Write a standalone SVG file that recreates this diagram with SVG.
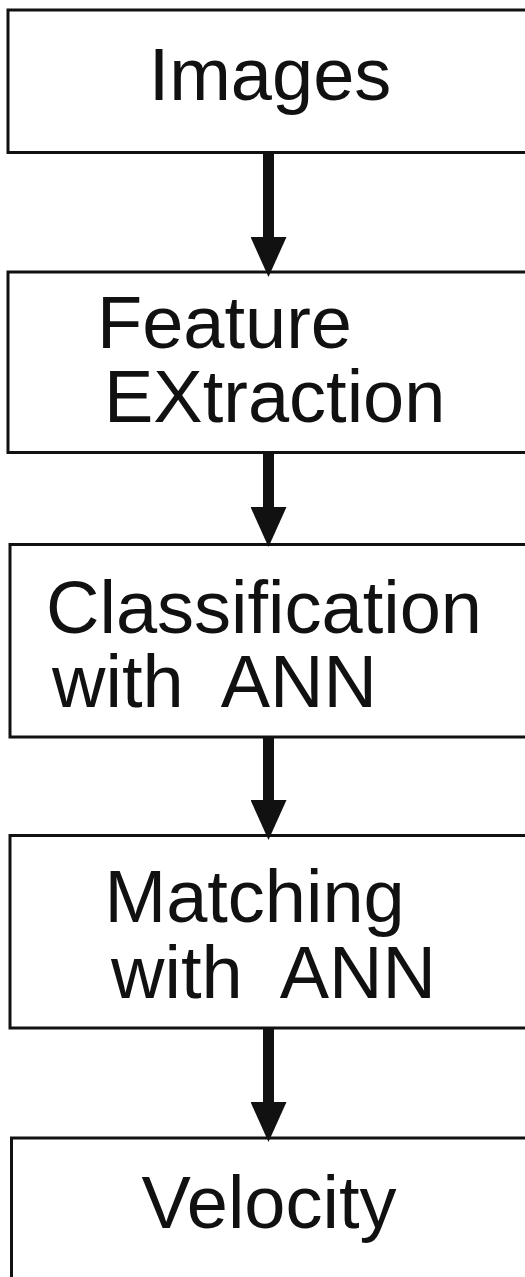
<svg xmlns="http://www.w3.org/2000/svg" width="525" height="1277" viewBox="0 0 525 1277">
  <style>
    .box { fill: #ffffff; stroke: #111111; stroke-width: 3; }
    .label { font-family: "Liberation Sans", Arial, Helvetica, sans-serif; font-size: 74px; fill: #111111; }
    .mid { text-anchor: middle; }
    .shaft { stroke: #111111; stroke-width: 11; fill: none; }
  </style>
  <defs>
    <marker id="head" markerUnits="userSpaceOnUse" viewBox="0 0 40 36" markerWidth="40" markerHeight="36" refX="2" refY="18" orient="auto">
      <path d="M0,0 L40,18 L0,36 Z" fill="#111111"/>
    </marker>
  </defs>

  <rect width="525" height="1277" fill="#ffffff"/>

  <g id="node-images">
    <rect class="box" x="8" y="10" width="540" height="142.5"/>
    <text class="label mid" x="270" y="100">Images</text>
  </g>

  <g id="node-feature-extraction">
    <rect class="box" x="8" y="272" width="540" height="180.5"/>
    <text class="label" x="97" y="348">Feature</text>
    <text class="label" x="104" y="422">EXtraction</text>
  </g>

  <g id="node-classification">
    <rect class="box" x="10" y="544.5" width="540" height="192.5"/>
    <text class="label" x="46" y="633">Classification</text>
    <text class="label" x="52" y="707" xml:space="preserve">with  ANN</text>
  </g>

  <g id="node-matching">
    <rect class="box" x="10" y="835.5" width="540" height="192.5"/>
    <text class="label" x="104.5" y="922">Matching</text>
    <text class="label" x="111" y="998" xml:space="preserve">with  ANN</text>
  </g>

  <g id="node-velocity">
    <rect class="box" x="11.5" y="1138" width="540" height="200"/>
    <text class="label mid" x="269" y="1228">Velocity</text>
  </g>

  <g id="connectors">
    <line class="shaft" x1="268.5" y1="154" x2="268.5" y2="239" marker-end="url(#head)"/>
    <line class="shaft" x1="268.5" y1="454" x2="268.5" y2="509" marker-end="url(#head)"/>
    <line class="shaft" x1="268.5" y1="738" x2="268.5" y2="802" marker-end="url(#head)"/>
    <line class="shaft" x1="268.5" y1="1029" x2="268.5" y2="1104" marker-end="url(#head)"/>
  </g>
</svg>
